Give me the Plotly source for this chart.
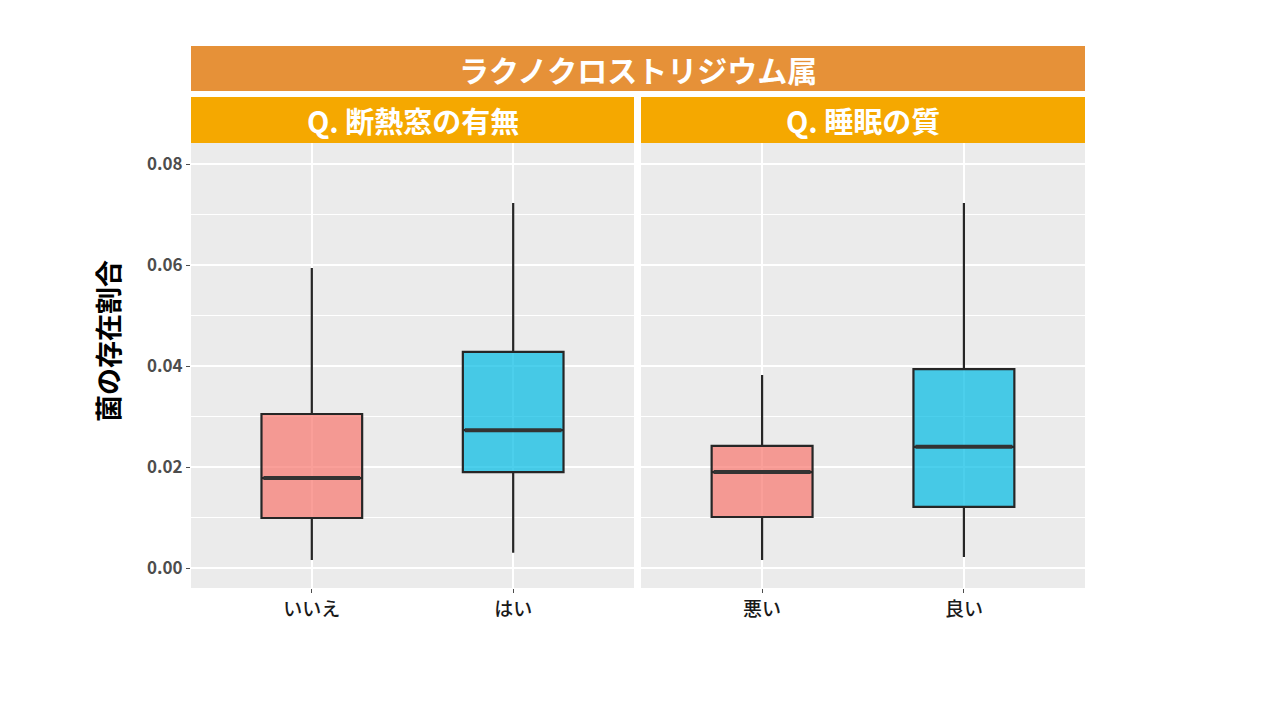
import plotly.graph_objects as go

# 5数要約(箱ひげ図) 読み取り値
panel_titles = ["Q. 断熱窓の有無", "Q. 睡眠の質"]
outer_title = "ラクノクロストリジウム属"
categories = [["いいえ", "はい"], ["悪い", "良い"]]
lower = [[0.0016, 0.0030], [0.0016, 0.0022]]
q1 = [[0.0099, 0.0190], [0.0101, 0.0121]]
median = [[0.0178, 0.0273], [0.0190, 0.0240]]
q3 = [[0.0305, 0.0428], [0.0242, 0.0394]]
upper = [[0.0594, 0.0723], [0.0382, 0.0723]]
fills = ["rgba(248,118,109,0.7)", "rgba(0,186,228,0.7)"]
y_ticks = [0.00, 0.02, 0.04, 0.06, 0.08]

W, H = 1280, 720
OFF = 8  # ページ余白ぶんのずれ
FONT = "Noto Sans CJK JP"
BOX_W = 0.5


def fx(v):
    return (v - OFF) / W


def fy(v):
    return 1 - (v - OFF) / H


x_domains = [[fx(191), fx(634)], [fx(641), fx(1085)]]
y_domain = [fy(588), fy(143)]

fig = go.Figure()
for p in range(2):
    xa = "x" if p == 0 else "x2"
    ya = "y" if p == 0 else "y2"
    for i in range(2):
        pos = i + 1
        fig.add_trace(go.Box(
            x=[pos], q1=[q1[p][i]], median=[median[p][i]], q3=[q3[p][i]],
            lowerfence=[lower[p][i]], upperfence=[upper[p][i]],
            width=BOX_W, whiskerwidth=0, fillcolor=fills[i],
            line=dict(color="#262626", width=2.2),
            boxpoints=False, showlegend=False, xaxis=xa, yaxis=ya, hoverinfo="skip"))
        # ggplotの太い中央値線
        fig.add_trace(go.Scatter(
            x=[pos - BOX_W / 2 + 0.01, pos + BOX_W / 2 - 0.01], y=[median[p][i]] * 2,
            mode="lines", line=dict(color="#333333", width=4),
            showlegend=False, xaxis=xa, yaxis=ya, hoverinfo="skip"))

yrange = [-0.00396, 0.08416]
for p in range(2):
    sfx = "" if p == 0 else "2"
    fig.layout["xaxis" + sfx] = dict(
        domain=x_domains[p], range=[0.4, 2.6], tickvals=[1, 2], ticktext=categories[p],
        showgrid=True, gridcolor="white", gridwidth=1.5, zeroline=False,
        ticks="outside", ticklen=4, tickcolor="#4D4D4D", anchor="y" + sfx,
        tickfont=dict(family=FONT, size=19, color="#1a1a1a", weight=500))
    fig.layout["yaxis" + sfx] = dict(
        domain=y_domain, range=yrange, tickvals=y_ticks,
        ticktext=[f"{v:.2f}" for v in y_ticks] if p == 0 else None,
        showticklabels=(p == 0), showgrid=True, gridcolor="white", gridwidth=1.5,
        zeroline=False, ticks="outside" if p == 0 else "", ticklen=4, tickcolor="#4D4D4D",
        anchor="x" + sfx,
        minor=dict(tick0=0.01, dtick=0.02, showgrid=True, gridcolor="white", gridwidth=0.7),
        tickfont=dict(family=FONT, size=17, color="#4D4D4D", weight=700))
fig.layout.yaxis2.matches = "y"

# ストリップ(見出し帯)
fig.add_shape(type="rect", xref="paper", yref="paper", x0=fx(191), x1=fx(1085),
              y0=fy(91), y1=fy(46), fillcolor="#E69138", line=dict(width=0), layer="below")
fig.add_annotation(x=fx((191 + 1085) / 2), y=fy(68.5), xref="paper", yref="paper",
                   xanchor="center", yanchor="middle",
                   text=outer_title, showarrow=False,
                   font=dict(family=FONT, size=30, color="white", weight=700))
for p in range(2):
    fig.add_shape(type="rect", xref="paper", yref="paper", x0=x_domains[p][0], x1=x_domains[p][1],
                  y0=fy(143), y1=fy(97), fillcolor="#F5A800", line=dict(width=0), layer="below")
    fig.add_annotation(x=sum(x_domains[p]) / 2, y=fy(120), xref="paper", yref="paper",
                       xanchor="center", yanchor="middle",
                       text=panel_titles[p], showarrow=False,
                       font=dict(family=FONT, size=29, color="white", weight=700))

fig.add_annotation(x=fx(107), y=fy(341), xref="paper", yref="paper", text="菌の存在割合",
                   xanchor="center", yanchor="middle",
                   textangle=-90, showarrow=False,
                   font=dict(family=FONT, size=27, color="#000000", weight=700))

fig.update_layout(width=W, height=H, margin=dict(l=0, r=0, t=0, b=0),
                  paper_bgcolor="white", plot_bgcolor="#EBEBEB",
                  font=dict(family=FONT))
fig.write_html("out.html")
